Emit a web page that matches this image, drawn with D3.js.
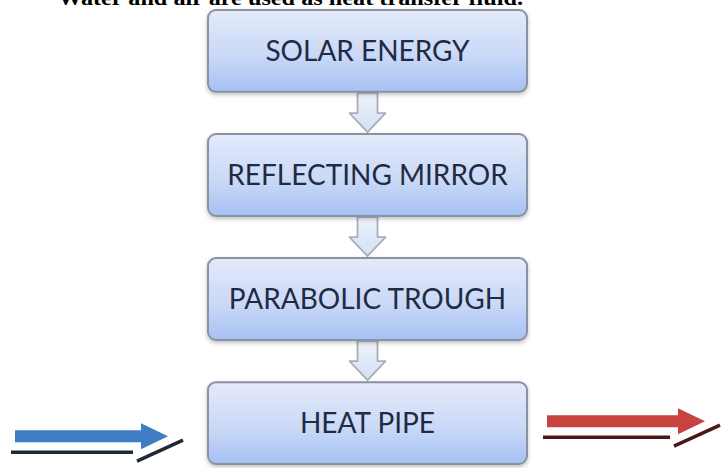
<!DOCTYPE html>
<html>
<head>
<meta charset="utf-8">
<script src="https://cdn.jsdelivr.net/npm/d3@7"></script>
<style>
  html, body { margin: 0; padding: 0; background: #fff; }
  svg { display: block; }
</style>
</head>
<body>
<div id="chart"></div>
<script>
// Flow chart of the solar heat pipe collector

const caption = "Water and air are used as heat transfer fluid.";
const steps = ["SOLAR ENERGY", "REFLECTING MIRROR", "PARABOLIC TROUGH", "HEAT PIPE"];
const fluidFlows = ["in", "out"];

function createVisualization() {
    const svgWidth = 722;
    const svgHeight = 468;

    const svg = d3.select("#chart")
        .append("svg")
        .attr("width", svgWidth)
        .attr("height", svgHeight);

    const defs = svg.append("defs");

    // box gradient
    const boxGrad = defs.append("linearGradient")
        .attr("id", "boxGrad")
        .attr("x1", 0).attr("y1", 0).attr("x2", 0).attr("y2", 1);
    boxGrad.append("stop").attr("offset", "0%").attr("stop-color", "#e4eafa");
    boxGrad.append("stop").attr("offset", "55%").attr("stop-color", "#cad9f7");
    boxGrad.append("stop").attr("offset", "100%").attr("stop-color", "#a6c1f3");

    const arrowGrad = defs.append("linearGradient")
        .attr("id", "arrowGrad")
        .attr("x1", 0).attr("y1", 0).attr("x2", 0).attr("y2", 1);
    arrowGrad.append("stop").attr("offset", "0%").attr("stop-color", "#eef3fc");
    arrowGrad.append("stop").attr("offset", "100%").attr("stop-color", "#d3dff5");

    const shadow = defs.append("filter")
        .attr("id", "shadow")
        .attr("x", "-10%").attr("y", "-10%")
        .attr("width", "120%").attr("height", "130%");
    shadow.append("feDropShadow")
        .attr("dx", 0).attr("dy", 2)
        .attr("stdDeviation", 2)
        .attr("flood-color", "#000")
        .attr("flood-opacity", 0.25);

    // Scales
    const yScale = d3.scaleBand()
        .domain(steps)
        .range([10, 464])
        .paddingInner(0.34)
        .paddingOuter(0);

    const xScale = d3.scaleLinear()
        .domain([0, 1])
        .range([208, 527]);

    const cx = xScale(0.5);

    // caption, cut off at the top as in the source page
    svg.append("text")
        .attr("x", 58)
        .attr("y", 5)
        .attr("textLength", 465)
        .attr("lengthAdjust", "spacingAndGlyphs")
        .style("font-family", "'Liberation Serif', 'Times New Roman', serif")
        .style("font-size", "21px")
        .style("font-weight", "bold")
        .style("fill", "#000")
        .text(caption);

    // down arrows between boxes
    const pairs = d3.pairs(steps);
    const shaftW = 20, headW = 36, headL = 19;
    svg.selectAll(".down")
        .data(pairs)
        .enter().append("path")
        .attr("class", "down")
        .attr("d", ([a, b]) => {
            const y0 = yScale(a) + yScale.bandwidth() + 1;
            const y1 = yScale(b) - 2;
            const yh = y1 - headL;
            return `M${cx - shaftW / 2},${y0} L${cx + shaftW / 2},${y0} L${cx + shaftW / 2},${yh}` +
                ` L${cx + headW / 2},${yh} L${cx},${y1} L${cx - headW / 2},${yh}` +
                ` L${cx - shaftW / 2},${yh} Z`;
        })
        .attr("fill", "url(#arrowGrad)")
        .attr("stroke", "#a9afba")
        .attr("stroke-width", 1.8)
        .attr("stroke-linejoin", "round");

    // boxes
    const box = svg.selectAll(".step")
        .data(steps)
        .enter().append("g")
        .attr("class", "step");

    box.append("rect")
        .attr("x", xScale(0))
        .attr("y", d => yScale(d))
        .attr("width", xScale(1) - xScale(0))
        .attr("height", yScale.bandwidth())
        .attr("rx", 8)
        .attr("fill", "url(#boxGrad)")
        .attr("stroke", "#8a92a3")
        .attr("stroke-width", 2)
        .attr("filter", "url(#shadow)");

    box.append("text")
        .attr("x", cx)
        .attr("y", d => yScale(d) + yScale.bandwidth() / 2)
        .attr("dy", "0.36em")
        .attr("text-anchor", "middle")
        .style("font-family", "Lato, 'Open Sans', sans-serif")
        .style("font-size", "28px")
        .style("fill", "#1f2b45")
        .text(d => d);

    // fluid in / out arrows beside the last box
    const last = steps[steps.length - 1];
    const flowX = d3.scaleOrdinal()
        .domain(fluidFlows)
        .range([[15, 168], [547, 705]]);
    const flowY = d3.scaleOrdinal()
        .domain(fluidFlows)
        .range([yScale(last) + 54, yScale(last) + 39]);
    const flowColor = d3.scaleOrdinal()
        .domain(fluidFlows)
        .range(["#3f7dc5", "#c8433f"]);
    const flowDark = d3.scaleOrdinal()
        .domain(fluidFlows)
        .range(["#1d2838", "#4b1719"]);

    const flow = svg.selectAll(".flow")
        .data(fluidFlows)
        .enter().append("g")
        .attr("class", "flow");

    const sh = 6, hh = 13, hl = 27;
    flow.append("path")
        .attr("d", d => {
            const [x0, x1] = flowX(d);
            const y = flowY(d);
            const xh = x1 - hl;
            return `M${x0},${y - sh} L${xh},${y - sh} L${xh},${y - hh} L${x1},${y}` +
                ` L${xh},${y + hh} L${xh},${y + sh} L${x0},${y + sh} Z`;
        })
        .attr("fill", d => flowColor(d));

    // dark shadow strokes under the arrows
    flow.append("path")
        .attr("d", d => {
            const [x0, x1] = flowX(d);
            const y = flowY(d);
            const xh = x1 - hl;
            return `M${x0 - 4},${y + sh + 10} L${xh - 8},${y + sh + 10}` +
                ` M${xh - 4},${y + hh + 12} L${x1 + 15},${y + 4}`;
        })
        .attr("fill", "none")
        .attr("stroke", d => flowDark(d))
        .attr("stroke-width", 3.5);
}

createVisualization();
</script>
</body>
</html>
